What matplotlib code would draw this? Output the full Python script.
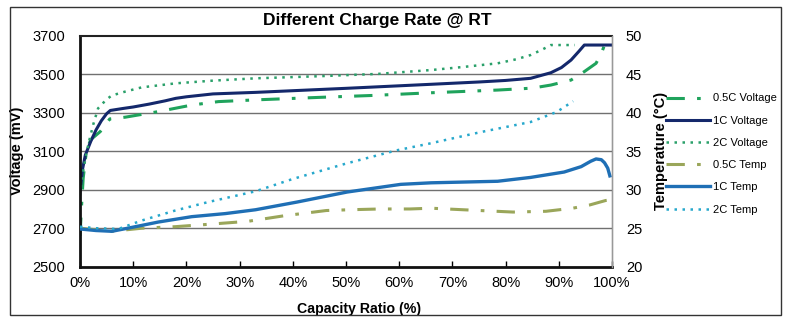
import matplotlib
matplotlib.use("Agg")
import matplotlib.pyplot as plt
from matplotlib.patches import Rectangle

plt.rcParams['font.family'] = ['Liberation Sans', 'DejaVu Sans']

# capacity ratio (%) / voltage (mV)
v05_x = [0, 0.3, 0.6, 1.2, 2, 3.8, 5.6, 8.5, 14.7, 21, 26, 33, 45, 55, 66, 78.5, 85, 88.5, 92.3, 94.8, 97, 98, 98.5, 99]
v05_y = [2660, 2820, 2960, 3100, 3160, 3202, 3268, 3277, 3306, 3340, 3358, 3367, 3380, 3390, 3404, 3418, 3428, 3444, 3470, 3514, 3557, 3609, 3645, 3655]

v1_x = [0, 0.5, 1, 2, 3, 4, 5, 5.7, 8, 10, 13, 16, 18, 20, 25, 33, 50, 66, 75, 80, 84.7, 88.5, 90.5, 92.3, 93.8, 94.8, 100]
v1_y = [2890, 3010, 3080, 3150, 3210, 3258, 3295, 3312, 3322, 3330, 3345, 3362, 3375, 3383, 3398, 3406, 3427, 3448, 3460, 3468, 3479, 3508, 3535, 3574, 3620, 3652, 3652]

v2_x = [0, 0.5, 1, 1.6, 2.5, 3.4, 5, 6, 8.5, 11.6, 18, 25, 33, 45, 56, 66, 72, 78.5, 82, 84.7, 87, 88.5, 93]
v2_y = [2870, 2980, 3060, 3140, 3240, 3323, 3370, 3390, 3410, 3432, 3453, 3467, 3479, 3490, 3502, 3522, 3538, 3557, 3578, 3600, 3630, 3652, 3652]

# temperature (C)
t05_x = [0, 6, 11.6, 17.9, 24, 31.6, 38.2, 46.3, 50.7, 56.4, 62, 66, 72, 81.4, 87.6, 92.6, 95.7, 98.8, 100]
t05_y = [25.0, 24.6, 25.0, 25.2, 25.5, 25.9, 26.6, 27.3, 27.4, 27.5, 27.5, 27.6, 27.4, 27.1, 27.2, 27.6, 28.0, 28.6, 28.7]

t1_x = [0, 3, 6, 9.7, 14.7, 21, 27.3, 33, 40.8, 50.2, 60.3, 66, 78.5, 84.7, 91, 94.2, 96, 97, 98, 98.6, 99.2, 99.6]
t1_y = [24.9, 24.7, 24.6, 25.1, 25.8, 26.5, 26.9, 27.4, 28.4, 29.7, 30.7, 30.9, 31.1, 31.6, 32.3, 33.0, 33.7, 34.0, 33.9, 33.5, 32.8, 31.8]

t2_x = [0, 3, 7.2, 11.6, 17.9, 24.1, 33, 40, 50, 59.4, 65.7, 75.4, 84.7, 89.6, 92.7]
t2_y = [25.2, 25.0, 24.9, 26.0, 27.3, 28.4, 29.8, 31.4, 33.4, 35.1, 36.0, 37.5, 38.8, 40.1, 41.5]

x_ticks = list(range(0, 101, 10))
v_ticks = [2500, 2700, 2900, 3100, 3300, 3500, 3700]
t_ticks = [20, 25, 30, 35, 40, 45, 50]

green = '#1fa35c'
green2 = '#2aa06a'
navy = '#14286b'
olive = '#9aa65a'
blue = '#1f6fb5'
lblue = '#27a8cc'
dashdot = (0, (6, 4, 1.2, 4))

W, H = 788, 321
fig = plt.figure(figsize=(W / 100, H / 100), dpi=100)
ax = fig.add_axes([80 / W, 1 - 266.7 / H, 532 / W, 230.9 / H])
ax2 = ax.twinx()

l1, = ax.plot(v05_x, v05_y, color=green, lw=2.2, linestyle=dashdot, label='0.5C Voltage')
l2, = ax.plot(v1_x, v1_y, color=navy, lw=2.2, label='1C Voltage')
l3, = ax.plot(v2_x, v2_y, color=green2, lw=1.8, linestyle=(0, (1, 2.2)), label='2C Voltage')
l4, = ax2.plot(t05_x, t05_y, color=olive, lw=2.2, linestyle=dashdot, label='0.5C Temp')
l5, = ax2.plot(t1_x, t1_y, color=blue, lw=2.4, label='1C Temp')
l6, = ax2.plot(t2_x, t2_y, color=lblue, lw=1.8, linestyle=(0, (1, 2.2)), label='2C Temp')

ax.set_xlim(0, 100)
ax.set_ylim(2500, 3700)
ax2.set_ylim(20, 50)
ax.set_xticks(x_ticks)
ax.set_xticklabels([f'{t}%' for t in x_ticks])
ax.set_yticks(v_ticks)
ax2.set_yticks(t_ticks)

for y in v_ticks[1:-1]:
    ax.axhline(y, color='#707070', lw=1, zorder=0)

ax.tick_params(axis='x', direction='in', length=4, width=1, labelsize=10.5, pad=7)
ax.tick_params(axis='y', length=0, labelsize=10.5, pad=11)
ax2.tick_params(axis='y', length=0, labelsize=10.5, pad=10)

for s in ['left', 'bottom']:
    ax.spines[s].set_linewidth(2)
    ax.spines[s].set_color('#111111')
ax.spines['top'].set_linewidth(1.5)
ax.spines['top'].set_color('#222222')
ax2.spines['right'].set_color('#999999')
ax2.spines['right'].set_linewidth(1)
ax2.spines['left'].set_visible(False)
ax2.spines['bottom'].set_visible(False)
ax2.spines['top'].set_visible(False)

ax.set_xlabel('Capacity Ratio (%)', fontsize=10.2, fontweight='bold')
ax.xaxis.set_label_coords(0.524, -0.155)
ax.set_ylabel('Voltage (mV)', fontsize=10.5, fontweight='bold')
ax.yaxis.set_label_coords(-0.105, 0.5)
ax2.set_ylabel('Temperature (\u00b0C)', fontsize=10.5, fontweight='bold')
ax2.yaxis.set_label_coords(1.079, 0.5)

fig.text(377 / W, 1 - 21 / H, 'Different Charge Rate @ RT', ha='center', va='center',
         fontsize=12.5, fontweight='bold')

fig.legend(handles=[l1, l2, l3, l4, l5, l6], loc='center left',
           bbox_to_anchor=(660 / W, 1 - 154 / H), frameon=False, fontsize=8,
           handlelength=4.0, handletextpad=0.3, labelspacing=1.1, borderpad=0)

fig.patches.append(Rectangle((10 / W, 1 - 314.5 / H), 771 / W, 307.5 / H, transform=fig.transFigure,
                             fill=False, edgecolor='#333333', lw=1))

plt.savefig('out.png', dpi=100)
